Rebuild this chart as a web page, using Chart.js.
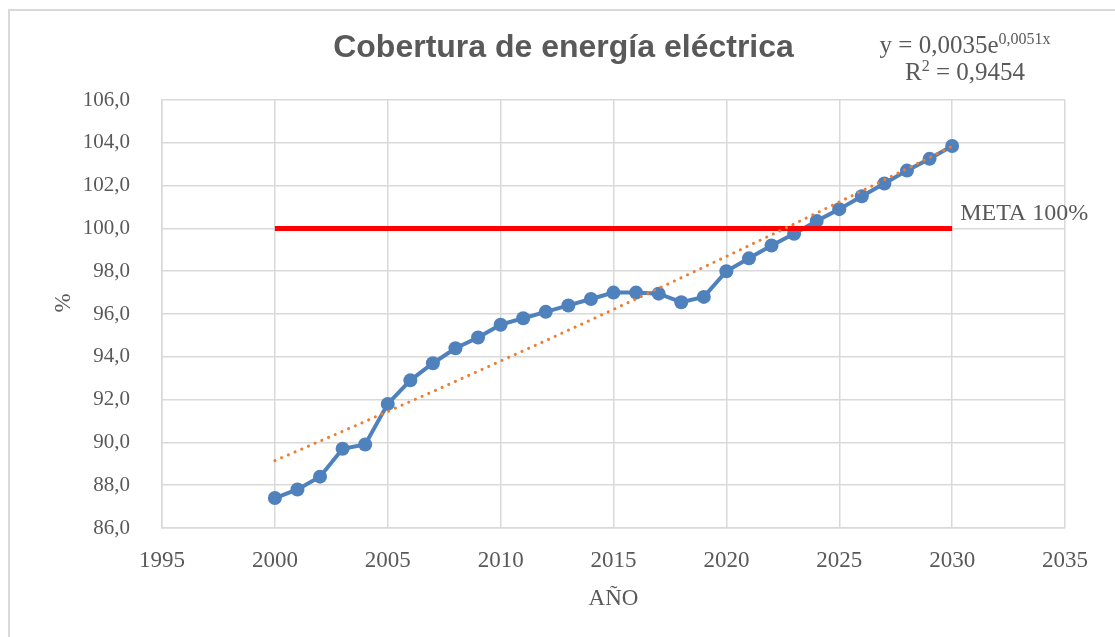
<!DOCTYPE html>
<html><head><meta charset="utf-8">
<script src="https://cdn.jsdelivr.net/npm/chart.js@4/dist/chart.umd.min.js"></script>
<style>
html,body{margin:0;padding:0;background:#fff;overflow:hidden;}
#wrap{position:relative;width:1115px;height:637px;}
#frame{position:absolute;left:8px;top:9px;width:1200px;height:700px;border-left:2px solid #d9d9d9;border-top:2px solid #d9d9d9;pointer-events:none;}
</style></head><body>
<div id="wrap"><canvas id="c" width="1115" height="637"></canvas><div id="frame"></div></div>
<script>
const years = [2000,2001,2002,2003,2004,2005,2006,2007,2008,2009,2010,2011,2012,2013,2014,2015,2016,2017,2018,2019,2020,2021,2022,2023,2024,2025,2026,2027,2028,2029,2030];
const coverage = [87.4,87.8,88.4,89.7,89.9,91.8,92.9,93.7,94.4,94.9,95.5,95.8,96.1,96.4,96.7,97.0,97.0,96.95,96.55,96.8,98.0,98.6,99.2,99.75,100.35,100.9,101.5,102.1,102.7,103.25,103.85];
const goalYears = [2000, 2030];
const goalValue = 100;
const xMin = 1995, xMax = 2035, xStep = 5;
const yMin = 86, yMax = 106, yStep = 2;
const titleText = 'Cobertura de energía eléctrica';
const eqMain = 'y = 0,0035e';
const eqExp = '0,0051x';
const r2Base = 'R';
const r2Sup = '2';
const r2Rest = ' = 0,9454';
const goalLabel = 'META 100%';
const xTitle = 'AÑO';
const yTitle = '%';

// Exponential least-squares trendline (as the spreadsheet computes it)
function expFit(xs, ys) {
  const n = xs.length;
  const mx = xs.reduce((a, b) => a + b, 0) / n;
  let sx = 0, sy = 0, sxx = 0, sxy = 0;
  for (let i = 0; i < n; i++) {
    const x = xs[i] - mx, l = Math.log(ys[i]);
    sx += x; sy += l; sxx += x * x; sxy += x * l;
  }
  const b = (n * sxy - sx * sy) / (n * sxx - sx * sx);
  const a = (sy - b * sx) / n;
  return x => Math.exp(a + b * (x - mx));
}
const trendFn = expFit(years, coverage);

const TXT = '#595959';
const SERIF = '"Liberation Serif", "DejaVu Serif", serif';

const overlay = {
  id: 'overlay',
  afterDraw(chart) {
    const ctx = chart.ctx;
    const xs = chart.scales.x, ys = chart.scales.y;
    ctx.save();
    ctx.fillStyle = TXT;
    // title
    ctx.font = 'bold 32px "Liberation Sans", Arial, sans-serif';
    ctx.textAlign = 'center';
    ctx.textBaseline = 'alphabetic';
    ctx.fillText(titleText, 563.5, 57);
    // y axis title
    ctx.save();
    ctx.font = '23px ' + SERIF;
    ctx.translate(64, 303);
    ctx.rotate(-Math.PI / 2);
    ctx.textBaseline = 'middle';
    ctx.fillText(yTitle, 0, 0);
    ctx.restore();
    // equation
    ctx.textAlign = 'left';
    const big = '25px ' + SERIF, small = '16px ' + SERIF;
    ctx.font = big; const w1 = ctx.measureText(eqMain).width;
    ctx.font = small; const w2 = ctx.measureText(eqExp).width;
    let x0 = 965 - (w1 + w2) / 2;
    ctx.font = big; ctx.fillText(eqMain, x0, 53);
    ctx.font = small; ctx.fillText(eqExp, x0 + w1, 44);
    ctx.font = big; const r1 = ctx.measureText(r2Base).width;
    const r3 = ctx.measureText(r2Rest).width;
    ctx.font = small; const r2 = ctx.measureText(r2Sup).width;
    x0 = 965 - (r1 + r2 + r3) / 2;
    ctx.font = big; ctx.fillText(r2Base, x0, 80);
    ctx.font = small; ctx.fillText(r2Sup, x0 + r1, 71);
    ctx.font = big; ctx.fillText(r2Rest, x0 + r1 + r2, 80);
    // goal label
    ctx.font = '24px ' + SERIF;
    ctx.fillText(goalLabel, xs.getPixelForValue(goalYears[1]) + 8, ys.getPixelForValue(goalValue) - 8);
    ctx.restore();
  }
};

new Chart(document.getElementById('c'), {
  type: 'line',
  data: {
    datasets: [
      {
        label: 'Tendencia',
        data: years.map(y => ({x: y, y: trendFn(y)})),
        borderColor: '#ED7D31',
        borderWidth: 3,
        borderDash: [0.1, 7.2],
        borderCapStyle: 'round',
        pointRadius: 0,
        tension: 0,
        order: 0
      },
      {
        label: 'Meta',
        data: goalYears.map(y => ({x: y, y: goalValue})),
        borderColor: '#FF0000',
        borderWidth: 5,
        pointRadius: 0,
        order: 1
      },
      {
        label: 'Cobertura',
        data: years.map((y, i) => ({x: y, y: coverage[i]})),
        borderColor: '#4F81BD',
        backgroundColor: '#4F81BD',
        borderWidth: 4,
        pointRadius: 7,
        pointBorderWidth: 0,
        pointBackgroundColor: '#4F81BD',
        tension: 0,
        order: 2
      }
    ]
  },
  options: {
    responsive: false,
    animation: false,
    events: [],
    layout: {padding: {top: 100, right: 50, left: 0, bottom: 0}},
    plugins: {legend: {display: false}, tooltip: {enabled: false}, title: {display: false}},
    scales: {
      x: {
        type: 'linear', min: xMin, max: xMax,
        afterFit(s) { s.height = 109; },
        border: {color: '#d9d9d9', width: 1.5},
        grid: {color: '#d9d9d9', lineWidth: 1.5, drawTicks: false},
        ticks: {stepSize: xStep, padding: 19, color: TXT, font: {family: SERIF, size: 23}, callback: v => String(v)},
        title: {display: true, text: xTitle, color: TXT, font: {family: SERIF, size: 23}, padding: {top: 0, bottom: 24}}
      },
      y: {
        type: 'linear', min: yMin, max: yMax,
        afterFit(s) { s.width = 162; },
        border: {color: '#d9d9d9', width: 1.5},
        grid: {color: '#d9d9d9', lineWidth: 1.5, drawTicks: false},
        ticks: {stepSize: yStep, padding: 32, color: TXT, font: {family: SERIF, size: 21}, callback: v => v.toFixed(1).replace('.', ',')},
        title: {display: false}
      }
    }
  },
  plugins: [overlay]
});
</script>
</body></html>
